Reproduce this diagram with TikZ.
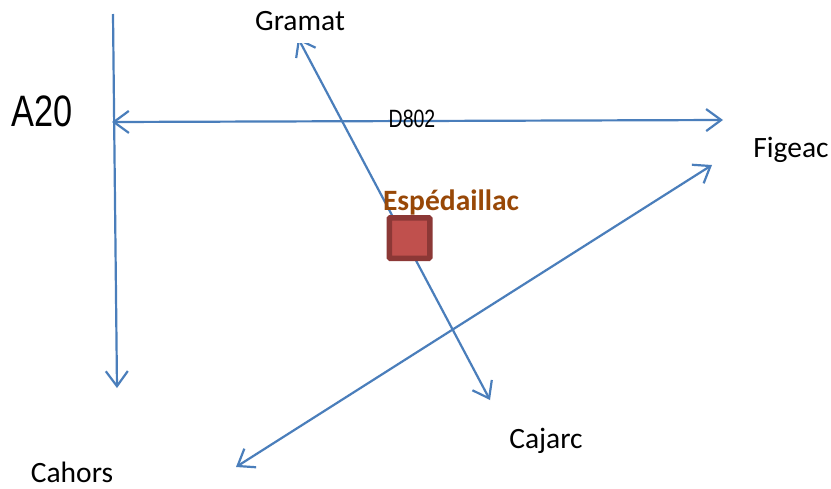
\documentclass[tikz,border=0pt]{standalone}
\usepackage{fontspec}
\setmainfont{Carlito}
\newfontfamily\arialf{Liberation Sans}
\usetikzlibrary{arrows.meta}
\definecolor{roadblue}{HTML}{4A7EBB}
\definecolor{sqfill}{HTML}{C0504D}
\definecolor{sqline}{HTML}{8C3836}
\definecolor{townbrown}{HTML}{984807}
\tikzset{
  road/.style={draw=roadblue,line width=2.2pt,-{Straight Barb[length=15pt,width=22pt,line width=2.2pt]}},
  roadboth/.style={draw=roadblue,line width=2.2pt,{Straight Barb[length=15pt,width=22pt,line width=2.2pt]}-{Straight Barb[length=15pt,width=22pt,line width=2.2pt]}},
  town/.style={font=\fontsize{29.5}{32}\selectfont,text=black,inner sep=0pt,anchor=base},
  narrowlabel/.style={font=\arialf\fontsize{#1}{#1}\selectfont,text=black,inner sep=0pt,anchor=base,xscale=.78},
}
\begin{document}
\begin{tikzpicture}[x=1pt,y=-1pt]
\useasboundingbox[fill=white] (0,0) rectangle (831,488);
\coordinate (a20top) at (113,14);
\coordinate (a20end) at (117,388);
\coordinate (dwest) at (112,122);
\coordinate (deast) at (723,120);
\coordinate (gramatend) at (298,38);
\coordinate (cajarcend) at (490,400);
\coordinate (figeacend) at (712,165);
\coordinate (cahorsend) at (236,467);
\draw[road] (a20top) -- (a20end);
\draw[roadboth] (dwest) -- (deast);
\draw[roadboth] (gramatend) -- (cajarcend);
\draw[roadboth] (figeacend) -- (cahorsend);
\fill[white] (240,0) rectangle (360,43);
\node[town] (gramat) at (300,30) {Gramat};
\node[town] (figeac) at (791,157) {Figeac};
\node[town] (cajarc) at (546,448) {Cajarc};
\node[town] (cahors) at (72,482) {Cahors};
\node[narrowlabel=44] (a20) at (42,126) {A20};
\node[narrowlabel=25] (d802) at (412,127) {D802};
\node[draw=sqline,fill=sqfill,line width=5.5pt,rounded corners=1pt,minimum size=40.5pt,inner sep=0pt] (esp) at (409.5,238) {};
\node[font=\bfseries\fontsize{29.5}{32}\selectfont,text=townbrown,inner sep=0pt,anchor=base] (esplabel) at (451,210) {Espédaillac};
\end{tikzpicture}
\end{document}
